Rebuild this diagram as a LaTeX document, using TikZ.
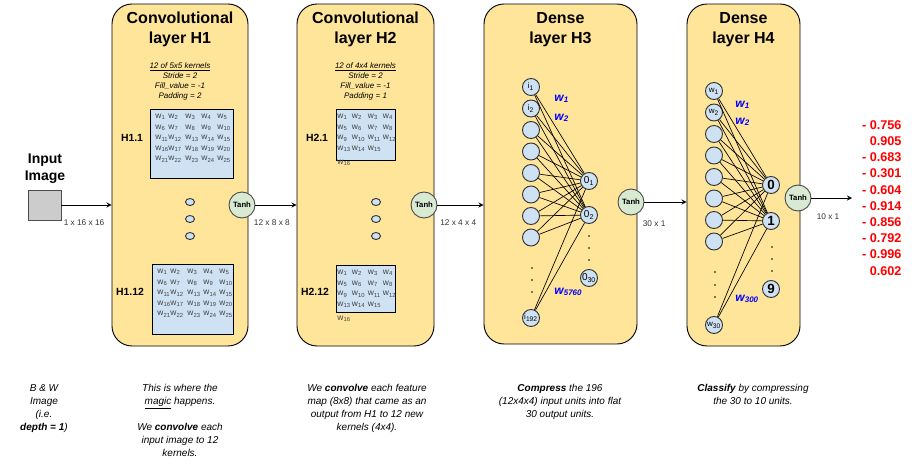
\documentclass[tikz,border=0pt]{standalone}
\usepackage{fontspec}
\setmainfont{Liberation Sans}
\usepackage{tikz}
\usetikzlibrary{positioning,calc}
\usetikzlibrary{shapes.geometric, arrows}
\definecolor{layc}{HTML}{FFE599}
\definecolor{kerc}{HTML}{CFE2F3}
\definecolor{tanc}{HTML}{D9EAD3}
\definecolor{imgc}{HTML}{CCCCCC}
\definecolor{wc}{HTML}{434343}
\tikzset{
  lay/.style={rectangle, rounded corners=15pt, draw=black, fill=layc, inner sep=0pt},
  ker/.style={rectangle, draw=black, fill=kerc, inner sep=0pt, anchor=north west},
  wt/.style={text=wc, font=\fontsize{6.3}{7}\selectfont, inner sep=0pt, anchor=west},
  hd/.style={font=\bfseries\fontsize{12}{15}\selectfont, align=center, anchor=base},
  sub/.style={font=\itshape\fontsize{6}{7.5}\selectfont, align=center, anchor=base},
  kl/.style={font=\bfseries\fontsize{7.8}{9}\selectfont},
  dt/.style={ellipse, draw=black!80, fill=kerc, minimum width=6.75pt, minimum height=5.25pt, inner sep=0pt},
  th/.style={circle, draw=black!70, fill=tanc, minimum size=19.5pt, inner sep=0pt, font=\bfseries\fontsize{5.8}{7}\selectfont},
  nu/.style={circle, draw=black!80, fill=kerc, minimum size=12.75pt, inner sep=0pt, font=\fontsize{6}{7}\selectfont},
  dimlbl/.style={font=\fontsize{6.2}{7}\selectfont, text=black!80},
  bw/.style={text=blue, font=\bfseries\itshape\fontsize{9}{10}\selectfont, anchor=base west, inner sep=0pt},
  val/.style={text=red, font=\bfseries\fontsize{9.5}{11}\selectfont, anchor=east, inner sep=0pt},
  ds/.style={font=\itshape\fontsize{7.5}{9.75}\selectfont, align=center, anchor=base},
  edg/.style={line width=0.5pt}
}

\begin{document}
\begin{tikzpicture}[x=0.75pt, y=-0.75pt, >=stealth, line width=0.7pt]
	\useasboundingbox (0,0) rectangle (921,468);
	% layers
	\node[lay, minimum width=102pt, minimum height=256.5pt] (lay1) at (180,175) {};
	\node[lay, minimum width=102.75pt, minimum height=256.5pt] (lay2) at (365.5,175) {};
	\node[lay, minimum width=114.75pt, minimum height=255pt] (lay3) at (560.5,174) {};
	\node[lay, minimum width=84.75pt, minimum height=256.5pt] (lay4) at (743.5,175) {};
	\node[hd] (t1) at (180,43.5) {Convolutional\\layer H1};
	\node[hd] (t2) at (365.5,43.5) {Convolutional\\layer H2};
	\node[hd] (t3) at (560.5,43.5) {Dense\\layer H3};
	\node[hd] (t4) at (743.5,43.5) {Dense\\layer H4};
	\node[sub] (s1) at (180,98.5) {\underline{12 of 5x5 kernels}\\Stride = 2\\Fill\_value = -1\\Padding = 2};
	\node[sub] (s2) at (365.5,98.5) {\underline{12 of 4x4 kernels}\\Stride = 2\\Fill\_value = -1\\Padding = 1};
	%
	% kernels
	\node[ker, minimum width=62.25pt, minimum height=51.75pt] (k1a) at (150,109) {};
	\node[ker, minimum width=60.75pt, minimum height=52.5pt] (k1b) at (152,264) {};
	\node[ker, minimum width=44.25pt, minimum height=38.25pt] (k2a) at (336,109) {};
	\node[ker, minimum width=44.25pt, minimum height=35.25pt] (k2b) at (336,265) {};
	\foreach \kb in {k1a,k1b}
	  \foreach \r in {0,...,4}
	    \foreach \cx [count=\c] in {5,18,35,51,67} {
	      \pgfmathtruncatemacro\nn{5*\r+\c}
	      \node[wt] (\kb-\nn) at ($(\kb.north west)+(\cx,8+10.6*\r)$) {w\textsubscript{\nn}};
	    }
	\foreach \kb in {k2a,k2b} {
	  \foreach \r in {0,...,3}
	    \foreach \cx [count=\c] in {1,15.5,31.5,46.5} {
	      \pgfmathtruncatemacro\nn{4*\r+\c}
	      \ifnum\nn<16
	        \node[wt] (\kb-\nn) at ($(\kb.north west)+(\cx,8+10.6*\r)$) {w\textsubscript{\nn}};
	      \fi
	    }
	  \node[wt] (\kb-16) at ($(\kb.north west)+(1,53.5)$) {w\textsubscript{16}};
	}
	\node[kl] (l1a) at (132,138) {H1.1};
	\node[kl] (l1b) at (130,292) {H1.12};
	\node[kl] (l2a) at (317,138) {H2.1};
	\node[kl] (l2b) at (315,292) {H2.12};
	\foreach \y [count=\i] in {202,219,236} {
	  \node[dt] (d1-\i) at (190,\y) {};
	  \node[dt] (d2-\i) at (376,\y) {};
	}
	%
	% input
	\node[font=\bfseries\fontsize{10.5}{12.4}\selectfont, align=center, anchor=base] (inl) at (45,180) {Input\\Image};
	\node[draw=black!70, fill=imgc, minimum width=24.75pt, minimum height=22.5pt, inner sep=0pt] (img) at (44.5,205) {};
	%
	% tanh + arrows
	\node[th] (th1) at (242,205) {Tanh};
	\node[th] (th2) at (424,205) {Tanh};
	\node[th] (th3) at (631,202) {Tanh};
	\node[th] (th4) at (798,198) {Tanh};
	\coordinate (oute) at (852,198);
	\draw[->] (img) -- node[dimlbl, below=7pt, pos=0.45] {1 x 16 x 16} (img -| lay1.west);
	\draw[->] (th1) -- node[dimlbl, below=7pt, pos=0.4] {12 x 8 x 8} (th1 -| lay2.west);
	\draw[->] (th2) -- node[dimlbl, below=7pt, pos=0.45] {12 x 4 x 4} (th2 -| lay3.west);
	\draw[->] (th3) -- node[dimlbl, below=10pt, pos=0.23] {30 x 1} (th3 -| lay4.west);
	\draw[->] (th4) -- node[dimlbl, below=8pt, pos=0.41] {10 x 1} (oute);
	%
	% dense H3
	\node[nu] (a1) at (531,87) {i\textsubscript{1}};
	\node[nu] (a2) at (531,108.5) {i\textsubscript{2}};
	\foreach \y [count=\i from 3] in {130,151.5,173,194.5,216,237.5}
	  \node[nu] (a\i) at (531,\y) {};
	\node[nu] (a9) at (531,318) {i\textsubscript{192}};
	\node[nu, font=\fontsize{7.5}{8}\selectfont] (o1) at (589,181) {0\textsubscript{1}};
	\node[nu, font=\fontsize{7.5}{8}\selectfont] (o2) at (589,215) {0\textsubscript{2}};
	\node[nu, font=\fontsize{7.5}{8}\selectfont] (o3) at (589,278) {0\textsubscript{30}};
	\foreach \i in {1,...,9} {
	  \draw[edg] (a\i) -- (o1);
	  \draw[edg] (a\i) -- (o2);
	}
	\foreach \y in {268,280,292} \fill (532,\y) circle (0.9);
	\foreach \y in {236,248,260} \fill (589,\y) circle (0.9);
	\node[bw] (w3a) at (554,101.5) {w\textsubscript{1}};
	\node[bw] (w3b) at (554,120.5) {w\textsubscript{2}};
	\node[bw] (w3c) at (554,294.5) {w\textsubscript{5760}};
	%
	% dense H4
	\node[nu] (b1) at (714,91) {w\textsubscript{1}};
	\node[nu] (b2) at (714,112.5) {w\textsubscript{2}};
	\foreach \y [count=\i from 3] in {134,155.5,177,198.5,220,241.5}
	  \node[nu] (b\i) at (714,\y) {};
	\node[nu] (b9) at (714,325) {w\textsubscript{30}};
	\node[nu, font=\bfseries\fontsize{10}{11}\selectfont] (c1) at (771,185) {0};
	\node[nu, font=\bfseries\fontsize{10}{11}\selectfont] (c2) at (771,221) {1};
	\node[nu, font=\bfseries\fontsize{10}{11}\selectfont] (c3) at (771,289) {9};
	\foreach \i in {1,...,9} {
	  \draw[edg] (b\i) -- (c1);
	  \draw[edg] (b\i) -- (c2);
	}
	\foreach \y in {272,285,297} \fill (715,\y) circle (0.9);
	\foreach \y in {247,259,271} \fill (772,\y) circle (0.9);
	\node[bw] (w4a) at (735,107) {w\textsubscript{1}};
	\node[bw] (w4b) at (735,124.5) {w\textsubscript{2}};
	\node[bw] (w4c) at (735,301) {w\textsubscript{300}};
	%
	% outputs
	\foreach \v [count=\i] in {- 0.756, 0.905, - 0.683, - 0.301, - 0.604, - 0.914, - 0.856, - 0.792, - 0.996, 0.602}
	  \node[val] (v\i) at (902,108.8+16.2*\i) {\v};
	%
	% notes
	\node[ds] (e0) at (44,430) {B \& W\\Image\\(i.e.\\\textbf{depth = 1})};
	\node[ds] (e1) at (180,456) {This is where the\\\underline{magic} happens.\\[9.75pt]We \textbf{convolve} each\\input image to 12\\kernels.};
	\node[ds] (e2) at (367,430) {We \textbf{convolve} each feature\\map (8x8) that came as an\\output from H1 to 12 new\\kernels (4x4).};
	\node[ds] (e3) at (560,417) {\textbf{Compress} the 196\\(12x4x4) input units into flat\\30 output units.};
	\node[ds] (e4) at (753,404) {\textbf{Classify} by compressing\\the 30 to 10 units.};
\end{tikzpicture}
\end{document}
